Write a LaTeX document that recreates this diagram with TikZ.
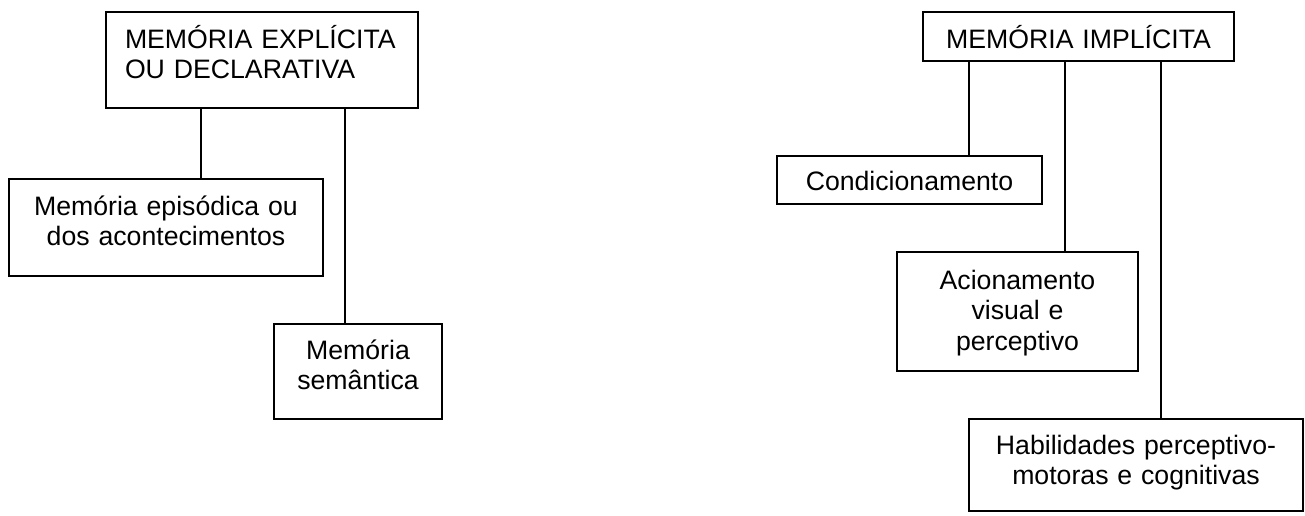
\documentclass[tikz,border=0pt]{standalone}
\usepackage{fontspec}
\setmainfont{Liberation Sans}
\tikzset{
    caixa/.style={draw, line width=1pt, anchor=north west, inner sep=0pt, align=center,
        font=\fontsize{13.33pt}{15.3pt}\selectfont},
    ligacao/.style={line width=1pt},
}
\begin{document}
\begin{tikzpicture}[x=0.5pt, y=-0.5pt]
        \useasboundingbox (0,0) rectangle (1305,515);
        % memoria explicita
        \node[caixa, align=left, minimum width=156pt, text width=137pt, text height=18pt, text depth=30pt] (explicita) at (105,11) {MEMÓRIA EXPLÍCITA\\OU DECLARATIVA};
        \node[caixa, minimum width=157pt, text width=145pt, text height=18pt, text depth=30.5pt] (episodica) at (8,178) {Memória episódica ou\\dos acontecimentos};
        \node[caixa, minimum width=84pt, text width=75pt, text height=17.5pt, text depth=30pt] (semantica) at (273,323) {Memória\\semântica};
        % memoria implicita
        \node[caixa, minimum width=155.5pt, text width=145pt, text height=18pt, text depth=6.5pt] (implicita) at (922,11) {MEMÓRIA IMPLÍCITA};
        \node[caixa, minimum width=132.5pt, text width=120pt, text height=17pt, text depth=7pt] (condicionamento) at (776,155) {Condicionamento};
        \node[caixa, minimum width=120.5pt, text width=100pt, text height=18.5pt, text depth=41pt] (acionamento) at (896,251) {Acionamento\\visual e\\perceptivo};
        \node[caixa, minimum width=167pt, text width=155pt, text height=17.5pt, text depth=28.5pt] (habilidades) at (968,418) {Habilidades perceptivo-\\motoras e cognitivas};
        % ligacoes
        \coordinate (l1) at (201,0);
        \coordinate (l2) at (345,0);
        \coordinate (l3) at (969,0);
        \coordinate (l4) at (1065,0);
        \coordinate (l5) at (1161,0);
        \draw[ligacao] (l1 |- explicita.south) -- (l1 |- episodica.north);
        \draw[ligacao] (l2 |- explicita.south) -- (l2 |- semantica.north);
        \draw[ligacao] (l3 |- implicita.south) -- (l3 |- condicionamento.north);
        \draw[ligacao] (l4 |- implicita.south) -- (l4 |- acionamento.north);
        \draw[ligacao] (l5 |- implicita.south) -- (l5 |- habilidades.north);
\end{tikzpicture}
\end{document}
